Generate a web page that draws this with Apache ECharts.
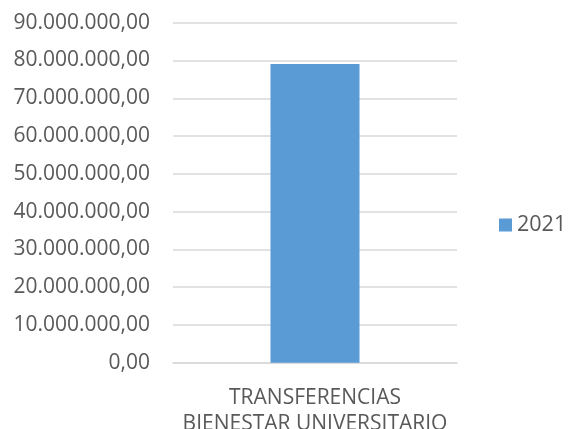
<!DOCTYPE html>
<html>
<head>
<meta charset="utf-8">
<script src="https://cdn.jsdelivr.net/npm/echarts@6/dist/echarts.min.js"></script>
<style>
  html, body { margin: 0; padding: 0; background: #fff; }
  #main { width: 568px; height: 429px; }
</style>
</head>
<body>
<div id="main"></div>
<script>
// data
const categories = ['TRANSFERENCIAS\nBIENESTAR UNIVERSITARIO']
const seriesName = '2021'
const values = [79100000]

const fontFam = '"Open Sans", sans-serif'

// 90.000.000,00 style
function fmt(v) {
    const parts = Math.round(v).toString().replace(/\B(?=(\d{3})+(?!\d))/g, '.')
    return parts + ',00'
}

const option = {
    animation: false,
    grid: {
        left: 173,
        right: 111,
        top: 22.7,
        bottom: 66.3,
        containLabel: false,
        outerBoundsMode: 'none'
    },
    legend: {
        data: [seriesName],
        orient: 'vertical',
        left: 499,
        top: 214,
        padding: 0,
        itemWidth: 13,
        itemHeight: 13,
        itemGap: 6,
        icon: 'rect',
        textStyle: {
            fontFamily: fontFam,
            fontSize: 21.5,
            color: '#595959',
            padding: [0, 0, 0, 0]
        }
    },
    xAxis: {
        type: 'category',
        data: categories,
        axisLine: { show: true, lineStyle: { color: '#d9d9d9', width: 1.5 } },
        axisTick: { show: false },
        axisLabel: {
            fontFamily: fontFam,
            fontSize: 21,
            color: '#595959',
            margin: 22,
            lineHeight: 26
        }
    },
    yAxis: {
        type: 'value',
        min: 0,
        max: 90000000,
        interval: 10000000,
        axisLine: { show: false },
        axisTick: { show: false },
        splitLine: { lineStyle: { color: '#d9d9d9', width: 1.5 } },
        axisLabel: {
            formatter: fmt,
            fontFamily: fontFam,
            fontSize: 21,
            color: '#595959',
            margin: 23
        }
    },
    series: [
        {
            name: seriesName,
            type: 'bar',
            barWidth: 89,
            data: values,
            itemStyle: { color: '#5b9bd5' }
        }
    ]
}

const myChart = echarts.init(document.getElementById('main'), null, { renderer: 'canvas' })
myChart.setOption(option)
</script>
</body>
</html>
